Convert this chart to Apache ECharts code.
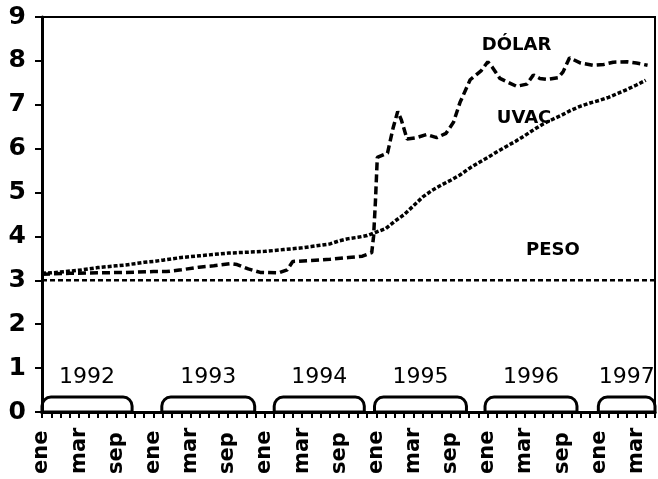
<!DOCTYPE html>
<html><head><meta charset="utf-8">
<script src="https://cdn.jsdelivr.net/npm/echarts@6/dist/echarts.min.js"></script>
<style>html,body{margin:0;padding:0;background:#fff}#c{width:658px;height:479px}</style>
</head><body><div id="c"></div>
<script>
// ---- data ----
const monthNames = ['ene','feb','mar','abr','may','jun','jul','ago','sep','oct','nov','dic'];
const years = [1992, 1993, 1994, 1995, 1996, 1997];
const tickLabels = ['ene', 'mar', 'sep']; // shown every 4 months
const categories = [];
for (const y of years) for (const m of monthNames) if (categories.length < 67) categories.push(m + ' ' + y);

// month span (index from ene 1992) covered by each year bracket
const yearSpans = [[0, 9.7], [12.9, 22.9], [25, 34.7], [35.8, 45.7], [47.7, 57.6], [59.9, 66]];

// series names
const seriesNames = ['DÓLAR', 'UVAC', 'PESO'];

// UVAC: monthly values
const uvac = [3.16,3.17,3.19,3.21,3.23,3.26,3.29,3.31,3.33,3.35,3.38,3.41,
              3.43,3.46,3.49,3.52,3.54,3.56,3.58,3.60,3.62,3.63,3.64,3.65,
              3.66,3.68,3.70,3.72,3.74,3.77,3.80,3.83,3.90,3.95,3.98,4.02,
              4.10,4.18,4.35,4.50,4.70,4.90,5.05,5.17,5.28,5.40,5.55,5.68,
              5.80,5.93,6.05,6.17,6.30,6.44,6.57,6.67,6.77,6.88,6.97,7.04,
              7.10,7.17,7.26,7.35,7.45,7.56];
// PESO: monthly values
const peso = [];
for (let i = 0; i <= 66; i++) peso.push(3.0);
// DÓLAR: [month index, value]
const dolar = [[0,3.14],[3,3.16],[6,3.17],[9,3.18],[12,3.2],[13.4,3.2],[15,3.24],[16.9,3.3],
  [18.5,3.33],[20.3,3.38],[21,3.36],[22.2,3.26],[23.5,3.18],[25.5,3.17],[26.4,3.24],[27,3.43],
  [29,3.45],[31,3.48],[33,3.52],[34.5,3.55],[35.5,3.63],[35.7,4.0],[35.9,4.8],[36.1,5.8],
  [37.2,5.9],[37.8,6.47],[38.3,6.85],[38.7,6.65],[39.3,6.22],[40.3,6.25],[41.4,6.32],[42.5,6.25],
  [43.5,6.35],[44.3,6.6],[45,7.05],[46.1,7.57],[47.3,7.78],[48,7.98],[48.5,7.85],[49.3,7.6],
  [50.3,7.5],[51.1,7.42],[52.2,7.47],[52.9,7.68],[53.6,7.6],[54.4,7.58],[55.6,7.62],[56.1,7.75],
  [56.8,8.07],[58,7.95],[59.3,7.9],[60.5,7.92],[61.5,7.97],[63,7.98],[64,7.95],[65.2,7.9]];

// ---- chart ----
const chart = echarts.init(document.getElementById('c'), null, {renderer: 'canvas'});
const nameAnchors = [[51.1, 8.36], [51.9, 6.7], [55, 3.68]];
chart.setOption({
  animation: false,
  backgroundColor: '#fff',
  grid: {left: 42, right: 3, top: 17, bottom: 67, show: true, borderColor: '#000', borderWidth: 2, containLabel: false},
  xAxis: {
    type: 'value', min: 0, max: categories.length - 1, interval: 1,
    axisLine: {show: true, onZero: false, lineStyle: {color: '#000', width: 3}},
    axisTick: {show: true, inside: false, length: 6, lineStyle: {color: '#000', width: 2}},
    splitLine: {show: false},
    axisLabel: {
      show: true, rotate: 90, align: 'left', verticalAlign: 'middle', margin: 62,
      color: '#000', fontFamily: 'DejaVu Sans', fontWeight: 'bold', fontSize: 21,
      showMinLabel: true, showMaxLabel: true,
      formatter: v => (v % 4 === 0 ? tickLabels[(v % 12) / 4] : '')
    }
  },
  yAxis: {
    type: 'value', min: 0, max: 9, interval: 1,
    axisLine: {show: true, lineStyle: {color: '#000', width: 3}},
    axisTick: {show: true, inside: false, length: 7, lineStyle: {color: '#000', width: 2}},
    splitLine: {show: false},
    axisLabel: {color: '#000', fontFamily: 'DejaVu Sans', fontWeight: 'bold', fontSize: 25, margin: 16}
  },
  series: [
    {name: 'PESO', type: 'line', showSymbol: false, data: peso.map((v, i) => [i, v]),
     lineStyle: {color: '#000', width: 2.5, type: [5, 3]}},
    {name: 'UVAC', type: 'line', showSymbol: false, data: uvac.map((v, i) => [i, v]),
     lineStyle: {color: '#000', width: 3.5, type: [4, 2]}},
    {name: 'DÓLAR', type: 'line', showSymbol: false, data: dolar,
     lineStyle: {color: '#000', width: 3.5, type: [8, 4]}},
    {name: 'names', type: 'custom', clip: false,
     data: nameAnchors.map((a, i) => [a[0], a[1], i]),
     encode: {x: 0, y: 1},
     renderItem: (params, api) => {
       const p = api.coord([api.value(0), api.value(1)]);
       return {type: 'text', x: p[0], y: p[1],
         style: {text: seriesNames[api.value(2)], fill: '#000', font: 'bold 18px "DejaVu Sans"', align: 'center', verticalAlign: 'middle'}};
     }},
    {name: 'years', type: 'custom', clip: false,
     data: yearSpans.map((s, i) => [s[0], s[1], years[i]]),
     encode: {x: [0, 1]},
     renderItem: (params, api) => {
       const s = api.value(0), e = api.value(1), yr = api.value(2);
       const p0 = api.coord([s, 0.34]);
       const p1 = api.coord([e, 0]);
       const pt = api.coord([(s + e) / 2, 0.8]);
       return {type: 'group', children: [
         {type: 'rect', shape: {x: p0[0], y: p0[1], width: p1[0] - p0[0], height: p1[1] - p0[1], r: [9, 9, 0, 0]},
          style: {fill: 'none', stroke: '#000', lineWidth: 3}},
         {type: 'text', x: pt[0], y: pt[1],
          style: {text: String(yr), fill: '#000', font: '22px "DejaVu Sans"', align: 'center', verticalAlign: 'middle'}}
       ]};
     }}
  ]
});
</script>
</body></html>
